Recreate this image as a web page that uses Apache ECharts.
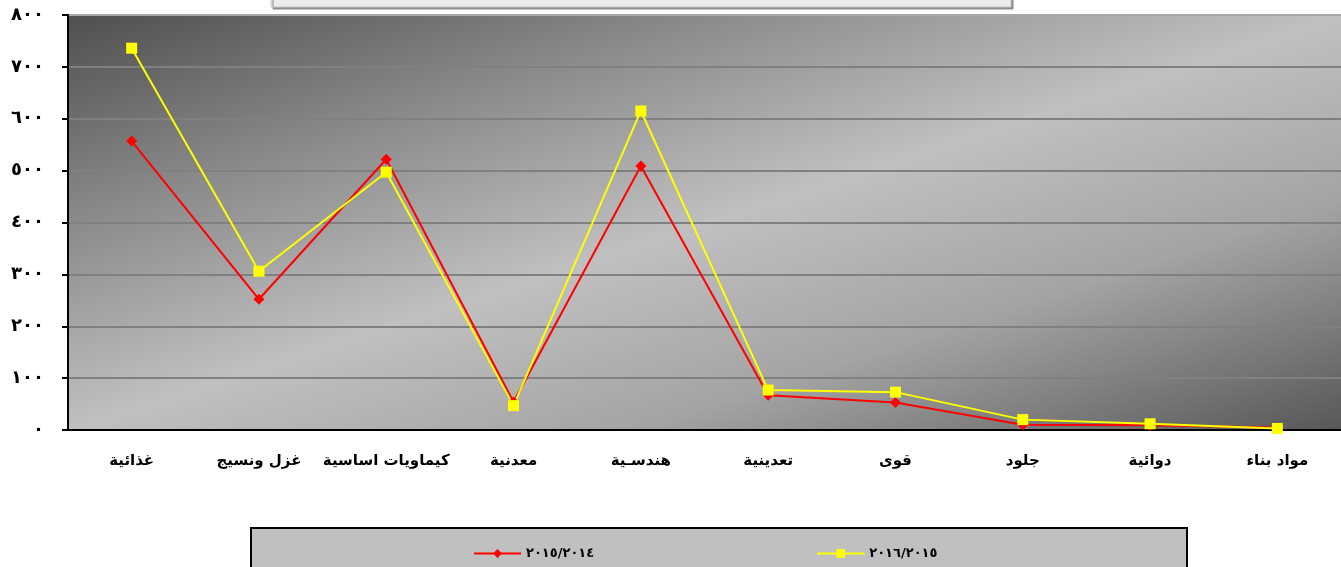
<!DOCTYPE html>
<html lang="ar">
<head>
    <meta charset="UTF-8">
    <title>chart</title>
</head>
<script src="https://cdn.jsdelivr.net/npm/echarts@6.0.0/dist/echarts.min.js" type="text/javascript"></script>
<body style="margin:0;background:#fff;">
<div id="line" style="width:1341px;height:567px;"></div>

<script type="text/javascript">
    // data
    var categories = ['غذائية', 'غزل ونسيج', 'كيماويات اساسية', 'معدنية', 'هندسـية', 'تعدينية', 'قوى', 'جلود', 'دوائية', 'مواد بناء'];
    var seriesNames = ['٢٠١٥/٢٠١٤', '٢٠١٦/٢٠١٥'];
    var values2014 = [557, 252, 522, 54, 509, 67, 53, 10, 9, 5];
    var values2015 = [736, 306, 497, 47, 615, 77, 73, 20, 12, 3];
    var yLabels = ['٠', '١٠٠', '٢٠٠', '٣٠٠', '٤٠٠', '٥٠٠', '٦٠٠', '٧٠٠', '٨٠٠'];

    var font = "'DejaVu Sans', sans-serif";
    var chart = echarts.init(document.getElementById('line'));

    var option = {
        animation: false,
        textStyle: {fontFamily: font},
        grid: {
            left: 68, top: 15, width: 1278, height: 415,
            show: true,
            borderWidth: 0,
            // diagonal grey band, dark in the top-left and bottom-right corners
            backgroundColor: {
                type: 'linear', global: true,
                x: 585, y: -153, x2: 829, y2: 598,
                colorStops: [
                    {offset: 0, color: '#4f4f4f'},
                    {offset: 0.25, color: '#8a8a8a'},
                    {offset: 0.5, color: '#c0c0c0'},
                    {offset: 0.72, color: '#a4a4a4'},
                    {offset: 1, color: '#575757'}
                ]
            }
        },
        legend: {
            left: 468, top: 542,
            itemWidth: 47, itemHeight: 11, itemGap: 222,
            textStyle: {color: '#000', fontWeight: 'bold', fontSize: 13, fontFamily: font},
            data: seriesNames
        },
        graphic: [
            {
                type: 'rect', z: 0,
                shape: {x: 271, y: -20, width: 740, height: 27},
                style: {fill: '#ececec', stroke: '#c4c4c4', lineWidth: 1,
                    shadowColor: '#8c8c8c', shadowOffsetX: 2, shadowOffsetY: 2, shadowBlur: 0}
            },
            {
                type: 'rect', z: 0,
                shape: {x: 251, y: 528, width: 936, height: 60},
                style: {fill: '#c0c0c0', stroke: '#000', lineWidth: 2}
            }
        ],
        xAxis: {
            type: 'category',
            data: categories,
            boundaryGap: true,
            axisLine: {lineStyle: {color: '#000', width: 2}},
            axisTick: {length: 7, lineStyle: {color: '#000', width: 2}},
            axisLabel: {interval: 0, margin: 24, color: '#000', fontSize: 15, fontWeight: 'bold', fontFamily: font}
        },
        yAxis: {
            type: 'value',
            min: 0, max: 800, interval: 100,
            axisLine: {show: true, lineStyle: {color: '#000', width: 2}},
            axisTick: {show: true, length: 6, lineStyle: {color: '#000', width: 2}},
            axisLabel: {
                margin: 24, color: '#000', fontSize: 18, fontWeight: 'bold', fontFamily: font,
                formatter: function (v) { return yLabels[Math.round(v / 100)]; }
            },
            splitLine: {
                lineStyle: {
                    width: 2,
                    color: ['#808080', '#808080', '#808080', '#808080', '#808080', '#808080', '#808080', '#808080', '#a8a8a8']
                }
            }
        },
        series: [
            {
                name: seriesNames[0],
                type: 'line',
                data: values2014,
                symbol: 'diamond', symbolSize: 11,
                itemStyle: {color: '#ff0000'},
                lineStyle: {color: '#ff0000', width: 2}
            },
            {
                name: seriesNames[1],
                type: 'line',
                data: values2015,
                symbol: 'rect', symbolSize: 11,
                itemStyle: {color: '#ffff00'},
                lineStyle: {color: '#ffff00', width: 2}
            }
        ]
    };
    chart.setOption(option);
</script>
</body>
</html>
